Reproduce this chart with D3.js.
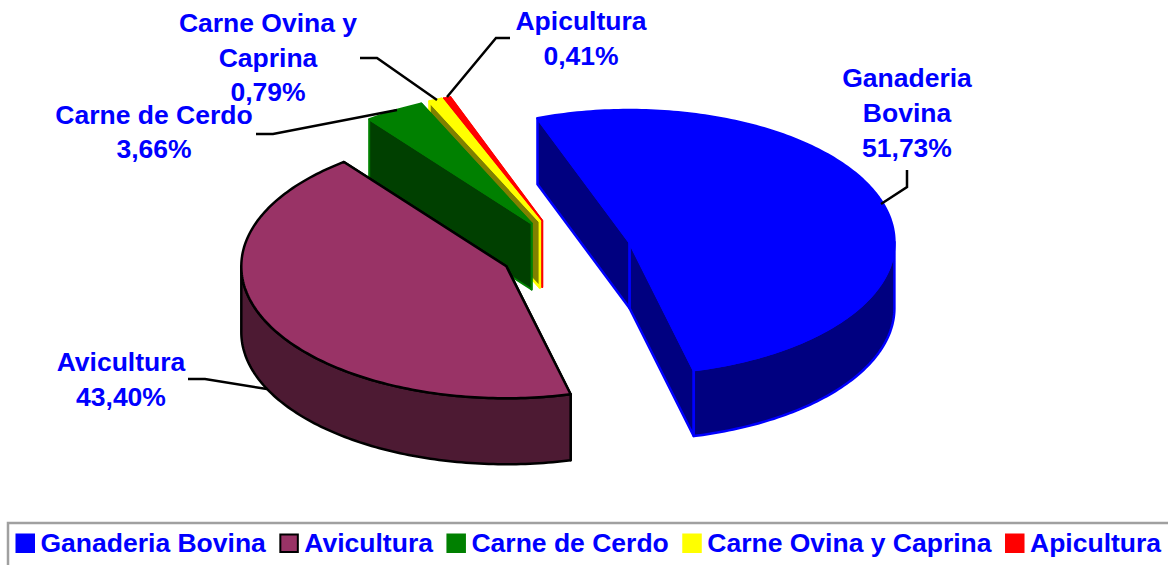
<!DOCTYPE html>
<html><head><meta charset="utf-8">
<script src="https://cdnjs.cloudflare.com/ajax/libs/d3/7.8.5/d3.min.js"></script>
<style>html,body{margin:0;padding:0;background:#fff;overflow:hidden}svg{display:block}
text{font-family:"Liberation Sans",Arial,sans-serif;font-weight:bold;font-size:26.5px;fill:#0000ff}</style>
</head><body><svg id="c" width="1168" height="565"></svg>
<script>
const categories = ["Ganaderia Bovina","Avicultura","Carne de Cerdo","Carne Ovina y Caprina","Apicultura"];
const shares = [51.73,43.40,3.66,0.79,0.41];
const shareLabels = ["51,73%","43,40%","3,66%","0,79%","0,41%"];
const labelLines = [["Ganaderia","Bovina"],["Avicultura"],["Carne de Cerdo"],["Carne Ovina y","Caprina"],["Apicultura"]];
const topColors = ["#0000ff","#993366","#008000","#ffff00","#ff0000"];
const wallColors = ["#000080","#4d1a33","#004000","#808000","#800000"];
const edgeColors = ["#0000ff","#000000","#008000","#ffff00","#ff0000"];

const labelPos = [[907,87,35],[121,371,35],[154,124,34],[268,32,34.5],[581,30,35]];
const leaders = [
  [[907,170],[907,187],[881,204]],
  [[188,379],[205,379],[267,389]],
  [[256,134],[273,134],[397,110]],
  [[360,58],[377,58],[437,100]],
  [[510,38],[496,38],[447,97]]
];

const svg = d3.select("#c");
const deg = Math.PI/180;
const cx=566, cy=251.8, rx=265, ry=132, depth=66, explode=0.2505;

const pie = d3.pie().sort(null).startAngle(-20.3*deg).endAngle(339.7*deg);
const arcs = pie(shares);

const px = d3.scaleLinear().domain([-1,1]).range([-rx,rx]);
const py = d3.scaleLinear().domain([-1,1]).range([-ry,ry]);
const line = d3.line();
const slices = arcs.map((a,i)=>{
  const mid=(a.startAngle+a.endAngle)/2;
  return {i,a,
    ax:cx+px(explode*Math.sin(mid)),
    ay:cy-py(explode*Math.cos(mid))};
});
function pt(s,t,dz=0){return [s.ax+px(Math.sin(t)), s.ay-py(Math.cos(t))+dz];}
function sample(t0,t1){const n=Math.max(2,Math.ceil((t1-t0)/deg));return d3.range(n+1).map(k=>t0+(t1-t0)*k/n);}

const sw=[2.5,2.5,2,2.5,2];
const order=[4,3,2,1,0];
order.forEach(i=>{
  const s=slices[i], a=s.a, g=svg.append("g");
  const apex=[s.ax,s.ay], apexB=[s.ax,s.ay+depth];
  const wall=(pts)=>g.append("path").attr("d",line(pts)+"Z")
    .attr("fill",wallColors[i]).attr("stroke",edgeColors[i]).attr("stroke-width",sw[i]).attr("stroke-linejoin","round");
  wall([apex,pt(s,a.endAngle),pt(s,a.endAngle,depth),apexB]);
  wall([apex,pt(s,a.startAngle),pt(s,a.startAngle,depth),apexB]);
  const t0=Math.max(a.startAngle,90*deg), t1=Math.min(a.endAngle,270*deg);
  if(t1>t0){
    const ts=sample(t0,t1);
    wall(ts.map(t=>pt(s,t)).concat(ts.slice().reverse().map(t=>pt(s,t,depth))));
  }
  const ts=sample(a.startAngle,a.endAngle);
  g.append("path").attr("d",line([apex].concat(ts.map(t=>pt(s,t))))+"Z")
    .attr("fill",topColors[i]).attr("stroke",edgeColors[i]).attr("stroke-width",sw[i]).attr("stroke-linejoin","round");
});

svg.append("g").selectAll("path").data(leaders).join("path")
  .attr("d",d=>line(d)).attr("fill","none").attr("stroke","#000").attr("stroke-width",2.5);

categories.forEach((c,i)=>{
  const [x,y,lh]=labelPos[i];
  const t=svg.append("text").attr("text-anchor","middle");
  labelLines[i].concat([shareLabels[i]]).forEach((l,k)=>{
    t.append("tspan").attr("x",x).attr("y",y+k*lh).text(l);
  });
});

svg.append("rect").attr("x",8).attr("y",523).attr("width",1300).attr("height",100)
  .attr("fill","#fff").attr("stroke","#a0a0a0").attr("stroke-width",2.5);
let lx=15.5;
categories.forEach((c,i)=>{
  const o=i==1?1:0;
  svg.append("rect").attr("x",lx+o).attr("y",533.5+o).attr("width",19.5-2*o).attr("height",19.5-2*o)
    .attr("fill",topColors[i]).attr("stroke",i==1?"#000":"none").attr("stroke-width",i==1?2:0);
  const t=svg.append("text").attr("x",lx+25).attr("y",552).text(c);
  lx+=25+t.node().getComputedTextLength()+13.5;
});
</script></body></html>
